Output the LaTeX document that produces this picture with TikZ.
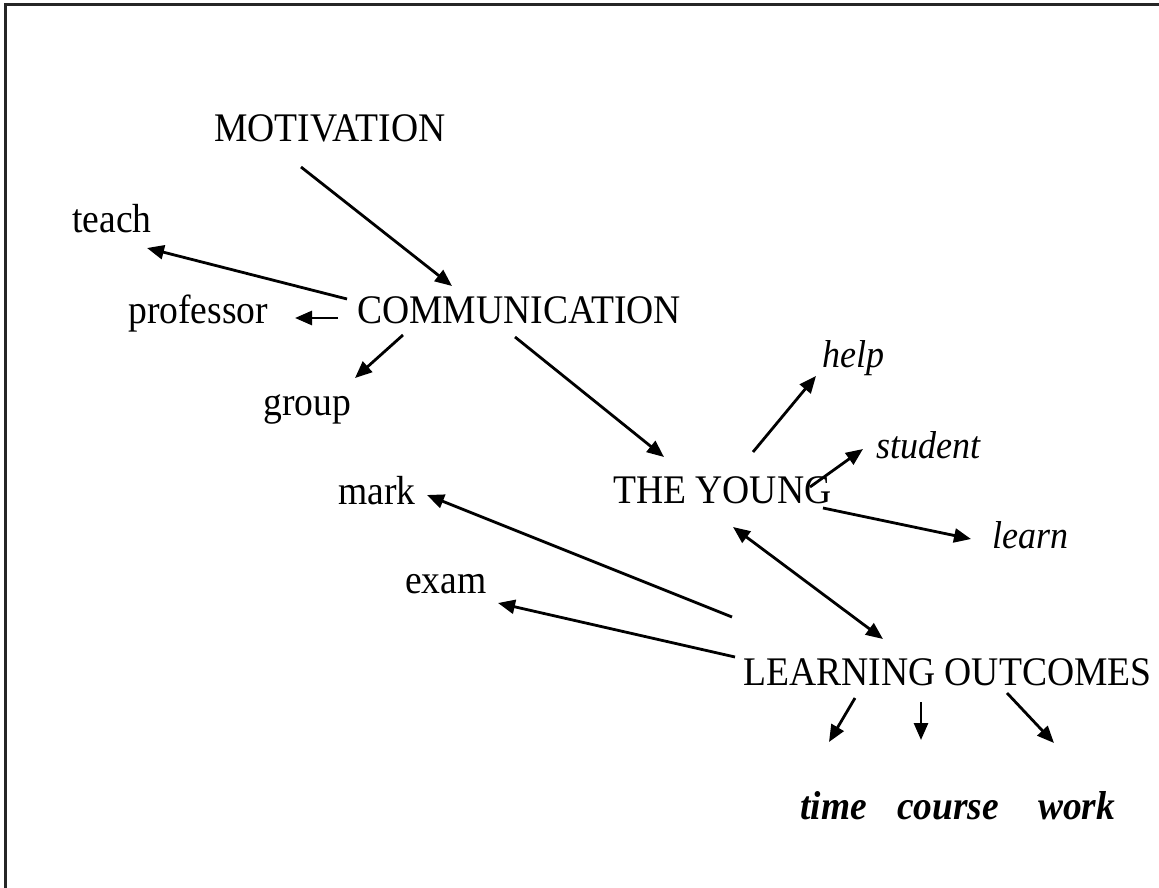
\documentclass[tikz,border=0pt]{standalone}
\usepackage{fontspec}
\setmainfont{Liberation Serif}
\usetikzlibrary{arrows.meta}
\newcommand{\tallt}[1]{\scalebox{1}[1.08]{#1}}
\begin{document}
\begin{tikzpicture}[x=1pt,y=-1pt,
  word/.style={anchor=base west,inner sep=0pt,font=\fontsize{37.6}{40}\selectfont},
  itword/.style={word,font=\fontsize{36}{40}\selectfont\itshape},
  bfword/.style={word,font=\fontsize{37.4}{40}\selectfont\bfseries\itshape},
  arr/.style={line width=2.8pt,-{Triangle[length=17pt,width=14pt]}},
  darr/.style={line width=2.8pt,{Triangle[length=17pt,width=14pt]}-{Triangle[length=17pt,width=14pt]}},
  frame/.style={line width=3pt,draw=black!85}]
\fill[white] (0,0) rectangle (1159,888);
\useasboundingbox (0,0) rectangle (1159,888);
\draw[frame] (5,890) -- (5,5) -- (1161,5);

\node[word] (mot) at (214,142) {\tallt{MOTIVATION}};
\node[word] (teach) at (72,232) {\tallt{teach}};
\node[word] (comm) at (357,323) {\tallt{COMMUNICATION}};
\node[word] (prof) at (128,323) {\tallt{professor}};
\node[word] (group) at (263,415) {\tallt{group}};
\node[word] (mark) at (338,504) {\tallt{mark}};
\node[word] (exam) at (405,593) {\tallt{exam}};
\node[word] (young) at (613,503) {\tallt{THE YOUNG}};
\node[itword] (help) at (822,367) {\tallt{help}};
\node[itword] (student) at (876,458) {\tallt{student}};
\node[itword] (learn) at (992,548) {\tallt{learn}};
\node[word] (lo) at (743,685) {\tallt{LEARNING OUTCOMES}};
\node[bfword] (time) at (800,819) {\tallt{time}};
\node[bfword] (course) at (897,819) {\tallt{course}};
\node[bfword] (work) at (1038,819) {\tallt{work}};

\draw[arr] ([shift={(87,25)}]mot.base west) -- ([shift={(95,-37)}]comm.base west);
\draw[arr] ([shift={(-10,-24)}]comm.base west) -- ([shift={(75,16)}]teach.base west);
\draw[arr] ([shift={(-19,-5)}]comm.base west) -- ([shift={(167,-5)}]prof.base west);
\draw[arr] ([shift={(46,12)}]comm.base west) -- ([shift={(92,-37)}]group.base west);
\draw[arr] ([shift={(158,14)}]comm.base west) -- ([shift={(51,-46)}]young.base west);
\draw[arr] ([shift={(140,-51)}]young.base west) -- ([shift={(-6,9)}]help.base west);
\draw[arr] ([shift={(197,-16)}]young.base west) -- ([shift={(-13,-9)}]student.base west);
\draw[arr] ([shift={(210,5)}]young.base west) -- ([shift={(-21,-9)}]learn.base west);
\draw[darr] ([shift={(120,24)}]young.base west) -- ([shift={(140,-46)}]lo.base west);
\draw[arr] ([shift={(-11,-68)}]lo.base west) -- ([shift={(89,-9)}]mark.base west);
\draw[arr] ([shift={(-8,-28)}]lo.base west) -- ([shift={(93,10)}]exam.base west);
\draw[arr] ([shift={(112,13)}]lo.base west) -- ([shift={(29,-77)}]time.base west);
\draw[arr] ([shift={(178,17)}]lo.base west) -- ([shift={(24,-79)}]course.base west);
\draw[arr] ([shift={(264,8)}]lo.base west) -- ([shift={(16,-76)}]work.base west);
\end{tikzpicture}
\end{document}
